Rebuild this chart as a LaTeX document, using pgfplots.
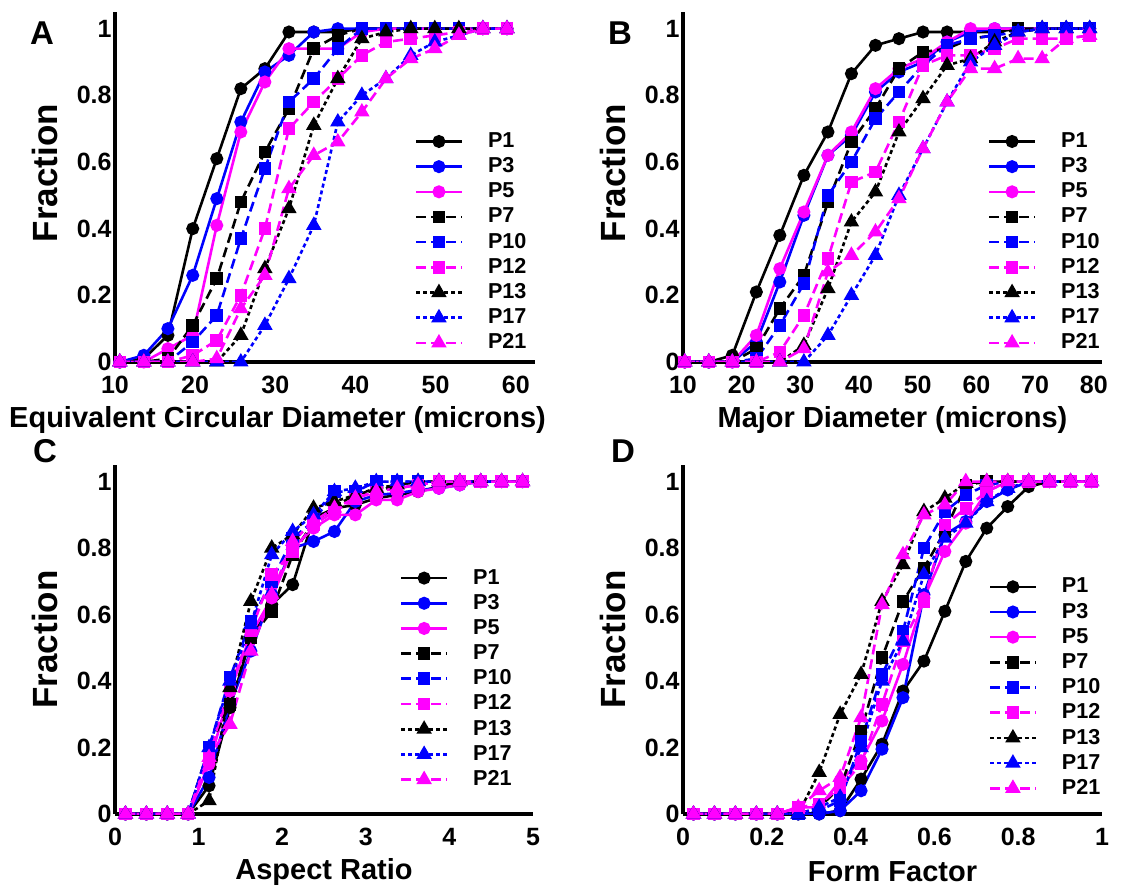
\documentclass[border=0pt]{standalone}
\usepackage{fontspec}
\setmainfont{Liberation Sans}
\usepackage{pgfplots}
\usepackage{pgfplotstable}
\pgfplotsset{compat=1.18}

% fractions of cells, one table per panel
\pgfplotstableread{
x     p1    p3    p5    p7    p10   p12   p13   p17   p21
10.6  0     0     0     0     0     0     0     0     0
13.6  0.01  0.02  0     0     0     0     0     0     0
16.6  0.08  0.10  0.04  0.01  0     0     0     0     0
19.7  0.40  0.26  0.08  0.11  0.06  0.02  0     0     0
22.7  0.61  0.49  0.41  0.25  0.14  0.065 0     0     0.01
25.7  0.82  0.72  0.69  0.48  0.37  0.20  0.08  0     0.16
28.7  0.88  0.87  0.84  0.63  0.58  0.40  0.28  0.11  0.26
31.7  0.99  0.92  0.94  0.76  0.78  0.70  0.46  0.25  0.52
34.8  0.99  0.99  0.94  0.94  0.85  0.78  0.71  0.41  0.62
37.8  0.99  1     0.94  0.98  0.94  0.85  0.85  0.72  0.66
40.8  1     1     0.99  1     1     0.92  0.97  0.80  0.75
43.8  1     1     1     1     1     0.96  0.99  0.85  0.85
46.9  1     1     1     1     1     0.97  1     0.92  0.91
49.9  1     1     1     1     1     0.98  1     0.96  0.94
52.9  1     1     1     1     1     0.99  1     0.98  0.98
55.9  1     1     1     1     1     1     1     1     1
58.9  1     1     1     1     1     1     1     1     1
}\tabA

\pgfplotstableread{
x     p1    p3    p5    p7    p10   p12   p13   p17   p21
10.3  0     0     0     0     0     0     0     0     0
14.4  0     0     0     0     0     0     0     0     0
18.4  0.02  0     0     0     0     0     0     0     0
22.5  0.21  0.06  0.08  0.04  0.01  0     0     0     0
26.5  0.38  0.24  0.28  0.16  0.11  0.03  0     0     0
30.6  0.56  0.44  0.45  0.26  0.235 0.14  0.05  0     0.04
34.7  0.69  0.62  0.62  0.48  0.50  0.31  0.22  0.08  0.27
38.7  0.865 0.68  0.69  0.66  0.60  0.54  0.42  0.20  0.32
42.8  0.95  0.81  0.82  0.76  0.73  0.57  0.51  0.32  0.39
46.8  0.97  0.87  0.88  0.88  0.81  0.72  0.69  0.50  0.49
50.9  0.99  0.90  0.91  0.93  0.89  0.89  0.79  0.64  0.64
55.0  0.99  0.96  0.96  0.94  0.95  0.92  0.89  0.78  0.78
59.0  0.99  0.99  1     0.97  0.97  0.92  0.91  0.90  0.88
63.1  0.99  1     1     0.98  0.98  0.94  0.96  0.95  0.88
67.1  1     1     1     1     0.99  0.97  0.99  0.99  0.91
71.2  1     1     1     1     1     0.97  1     1     0.91
75.3  1     1     1     1     1     0.97  1     1     0.97
79.3  1     1     1     1     1     0.98  1     1     0.98
}\tabB

\pgfplotstableread{
x     p1    p3    p5    p7    p10   p12   p13   p17   p21
0.125 0     0     0     0     0     0     0     0     0
0.375 0     0     0     0     0     0     0     0     0
0.625 0     0     0     0     0     0     0     0     0
0.875 0     0     0     0     0     0     0     0     0
1.125 0.085 0.11  0.15  0.20  0.20  0.18  0.04  0.20  0.17
1.375 0.32  0.33  0.37  0.33  0.41  0.38  0.38  0.40  0.27
1.625 0.53  0.49  0.54  0.53  0.58  0.55  0.64  0.57  0.49
1.875 0.63  0.66  0.65  0.61  0.70  0.72  0.80  0.78  0.66
2.125 0.69  0.80  0.80  0.78  0.83  0.79  0.84  0.85  0.82
2.375 0.89  0.82  0.86  0.88  0.88  0.87  0.92  0.90  0.88
2.625 0.92  0.85  0.90  0.92  0.97  0.91  0.94  0.97  0.92
2.875 0.93  0.94  0.90  0.965 0.97  0.95  0.96  0.98  0.95
3.125 0.95  0.96  0.945 0.97  1     0.97  0.98  1     0.97
3.375 0.96  0.965 0.945 0.99  1     0.98  0.99  1     0.98
3.625 0.97  0.975 0.97  1     1     0.99  1     1     0.99
3.875 0.985 0.98  0.98  1     1     1     1     1     1
4.125 1     0.99  0.99  1     1     1     1     1     1
4.375 1     1     1     1     1     1     1     1     1
4.625 1     1     1     1     1     1     1     1     1
4.875 1     1     1     1     1     1     1     1     1
}\tabC

\pgfplotstableread{
x     p1    p3    p5    p7    p10   p12   p13   p17   p21
0.025 0     0     0     0     0     0     0     0     0
0.075 0     0     0     0     0     0     0     0     0
0.125 0     0     0     0     0     0     0     0     0
0.175 0     0     0     0     0     0     0     0     0
0.225 0     0     0     0     0     0     0     0     0
0.275 0     0     0.02  0     0     0.02  0     0     0.02
0.325 0     0     0.02  0.02  0.01  0.03  0.125 0.02  0.07
0.375 0.01  0.01  0.10  0.08  0.04  0.08  0.30  0.05  0.11
0.425 0.105 0.07  0.16  0.25  0.22  0.15  0.42  0.20  0.29
0.475 0.21  0.195 0.28  0.47  0.42  0.33  0.64  0.40  0.63
0.525 0.37  0.35  0.45  0.64  0.55  0.52  0.75  0.52  0.78
0.575 0.46  0.66  0.65  0.74  0.80  0.64  0.91  0.72  0.90
0.625 0.61  0.84  0.79  0.85  0.91  0.87  0.95  0.83  0.93
0.675 0.76  0.88  0.875 0.99  0.96  0.92  0.995 0.875 1
0.725 0.86  0.94  0.97  1     0.99  0.97  1     0.94  1
0.775 0.925 0.975 1     1     1     1     1     0.98  1
0.825 0.985 1     1     1     1     1     1     1     1
0.875 1     1     1     1     1     1     1     1     1
0.925 1     1     1     1     1     1     1     1     1
0.975 1     1     1     1     1     1     1     1     1
}\tabD

\definecolor{mag}{RGB}{255,0,255}
\definecolor{blu}{RGB}{0,0,255}

\pgfplotsset{
  p1/.style={black,solid,line width=1.3pt,mark=*,mark size=2.6pt,mark options={solid}},
  p3/.style={blu,solid,line width=1.3pt,mark=*,mark size=2.6pt,mark options={solid}},
  p5/.style={mag,solid,line width=1.3pt,mark=*,mark size=2.6pt,mark options={solid}},
  p7/.style={black,line width=1.3pt,dash pattern=on 5pt off 2.5pt,mark=square*,mark size=2.5pt,mark options={solid}},
  p10/.style={blu,line width=1.3pt,dash pattern=on 5pt off 2.5pt,mark=square*,mark size=2.5pt,mark options={solid}},
  p12/.style={mag,line width=1.3pt,dash pattern=on 5pt off 2.5pt,mark=square*,mark size=2.5pt,mark options={solid}},
  p13/.style={black,line width=1.3pt,dash pattern=on 2pt off 1.5pt,mark=triangle*,mark size=3.2pt,mark options={solid}},
  p17/.style={blu,line width=1.3pt,dash pattern=on 2pt off 1.5pt,mark=triangle*,mark size=3.2pt,mark options={solid}},
  p21/.style={mag,line width=1.3pt,dash pattern=on 5pt off 2.5pt,mark=triangle*,mark size=3.2pt,mark options={solid}},
  panel/.style={
    scale only axis,
    anchor=south west,
    axis lines=left,
    axis line style={line width=1.6pt,-},
    major tick length=0pt,
    ymin=0, ymax=1.05,
    ytick={0,0.2,0.4,0.6,0.8,1},
    /pgf/number format/assume math mode=true,
    tick label style={font=\fontsize{12.5}{14}\selectfont\bfseries},
    yticklabel style={inner sep=1.5pt},
    xticklabel style={yshift=-3.5pt},
    xlabel style={font=\fontsize{14.5}{16}\selectfont\bfseries},
    ylabel=Fraction,
    ylabel style={font=\fontsize{17.5}{19}\selectfont\bfseries,anchor=center},
    legend cell align=left,
    legend style={draw=none,fill=none,anchor=north west,inner sep=0pt,outer sep=0pt,
      font=\fontsize{10.8}{12}\selectfont\bfseries,
      row sep=-0.4pt,column sep=10.5pt},
    legend image code/.code={\draw[mark repeat=2,mark phase=2]
      plot coordinates {(0cm,0cm) (0.4cm,0cm) (0.8cm,0cm)};},
  },
}

\newcommand{\allplots}[1]{%
  \addplot[p1] table[x=x,y=p1]{#1};
  \addplot[p3] table[x=x,y=p3]{#1};
  \addplot[p5] table[x=x,y=p5]{#1};
  \addplot[p7] table[x=x,y=p7]{#1};
  \addplot[p10] table[x=x,y=p10]{#1};
  \addplot[p12] table[x=x,y=p12]{#1};
  \addplot[p13] table[x=x,y=p13]{#1};
  \addplot[p17] table[x=x,y=p17]{#1};
  \addplot[p21] table[x=x,y=p21]{#1};
  \legend{P1,P3,P5,P7,P10,P12,P13,P17,P21}
}

\begin{document}
\begin{tikzpicture}
\useasboundingbox (0,0) rectangle (560.5pt,-444pt);

\begin{axis}[panel, at={(57.5pt,-181pt)}, width=210pt, height=175pt,
  xmin=10, xmax=62.4, xtick={10,20,30,40,50,60},
  xlabel={Equivalent Circular Diameter (microns)},
  xlabel style={at={(axis description cs:0.387,-0.166)},anchor=center},
  ylabel style={at={(axis description cs:-0.167,0.54)}},
  legend style={at={(axis description cs:0.714,0.667)}}]
\allplots{\tabA}
\end{axis}

\begin{axis}[panel, at={(341.5pt,-181pt)}, width=209.5pt, height=175pt,
  xmin=10, xmax=81.4, xtick={10,20,30,40,50,60,70,80},
  xlabel={Major Diameter (microns)},
  xlabel style={at={(axis description cs:0.5,-0.166)},anchor=center},
  ylabel style={at={(axis description cs:-0.167,0.54)}},
  legend style={at={(axis description cs:0.728,0.667)}}]
\allplots{\tabB}
\end{axis}

\begin{axis}[panel, at={(57.5pt,-407pt)}, width=209pt, height=174.5pt,
  xmin=0, xmax=5, xtick={0,1,2,3,4,5},
  xlabel={Aspect Ratio},
  xlabel style={at={(axis description cs:0.5,-0.166)},anchor=center},
  ylabel style={at={(axis description cs:-0.167,0.5)}},
  legend style={at={(axis description cs:0.682,0.713)}}]
\allplots{\tabC}
\end{axis}

\begin{axis}[panel, at={(341.5pt,-407pt)}, width=209.5pt, height=174.5pt,
  xmin=0, xmax=1, xtick={0,0.2,0.4,0.6,0.8,1},
  xlabel={Form Factor},
  xlabel style={at={(axis description cs:0.5,-0.166)},anchor=center},
  ylabel style={at={(axis description cs:-0.167,0.5)}},
  legend style={at={(axis description cs:0.730,0.688)}}]
\allplots{\tabD}
\end{axis}

\node[font=\fontsize{16.5}{18}\selectfont\bfseries] at (21pt,-16.5pt) {A};
\node[font=\fontsize{16.5}{18}\selectfont\bfseries] at (310pt,-16.5pt) {B};
\node[font=\fontsize{16.5}{18}\selectfont\bfseries] at (22.5pt,-225.5pt) {C};
\node[font=\fontsize{16.5}{18}\selectfont\bfseries] at (311.5pt,-225.5pt) {D};
\end{tikzpicture}
\end{document}
